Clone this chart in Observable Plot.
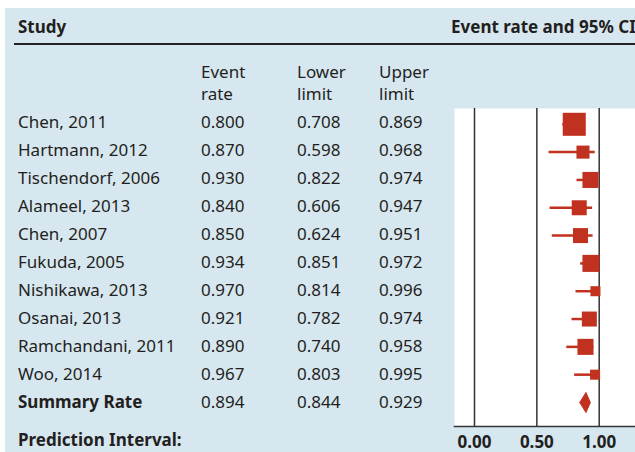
<!DOCTYPE html>
<html>
<head>
<meta charset="utf-8">
<script src="https://cdn.jsdelivr.net/npm/d3@7"></script>
<script src="https://cdn.jsdelivr.net/npm/@observablehq/plot@0.6"></script>
<style>
  html, body { margin: 0; padding: 0; background: #fff; }
  #fig { position: relative; width: 635px; height: 452px; overflow: hidden; background: #fff;
         font-family: "Noto Sans", sans-serif; color: #231f20; }
  #bg { position: absolute; left: 5px; top: 8px; right: 0; bottom: 0; background: #d7e7f0; }
  .t { position: absolute; font-size: 17px; line-height: 22px; white-space: nowrap; }
  .b { font-weight: bold; }
  #hline { position: absolute; left: 14px; right: 0; top: 43px; height: 1.5px; background: #222; }
  #plot { position: absolute; left: 454px; top: 108px; }
</style>
</head>
<body>
<div id="fig">
  <div id="bg"></div>
  <div id="hline"></div>
  <div id="plot"></div>
</div>
<script>
const studies = ["Chen, 2011", "Hartmann, 2012", "Tischendorf, 2006", "Alameel, 2013", "Chen, 2007",
                 "Fukuda, 2005", "Nishikawa, 2013", "Osanai, 2013", "Ramchandani, 2011", "Woo, 2014"];
const eventRate = [0.800, 0.870, 0.930, 0.840, 0.850, 0.934, 0.970, 0.921, 0.890, 0.967];
const lowerLimit = [0.708, 0.598, 0.822, 0.606, 0.624, 0.851, 0.814, 0.782, 0.740, 0.803];
const upperLimit = [0.869, 0.968, 0.974, 0.947, 0.951, 0.972, 0.996, 0.974, 0.958, 0.995];
const relWeight = [24.3, 7.8, 11.8, 10.3, 10.3, 13.3, 4.6, 10.3, 11.8, 4.6];
const summaryLabel = "Summary Rate";
const summaryRate = 0.894, summaryLower = 0.844, summaryUpper = 0.929;
const predictionLabel = "Prediction Interval:";
const xTicks = [0, 0.5, 1];
const headerStudy = "Study";
const headerPlot = "Event rate and 95% CI";
const colHeaders = [["Event", "rate"], ["Lower", "limit"], ["Upper", "limit"]];

const fig = document.getElementById("fig");
const fmt = d3.format(".3f");
function addText(str, left, baseline, bold) {
  const d = document.createElement("div");
  d.className = "t" + (bold ? " b" : "");
  d.textContent = str;
  d.style.left = left + "px";
  d.style.top = (baseline - 17.6) + "px";
  fig.appendChild(d);
}
const colX = [18, 201, 297, 379];
addText(headerStudy, colX[0], 34, true);
addText(headerPlot, 451, 34, true);
colHeaders.forEach((h, j) => { addText(h[0], colX[j + 1], 79); addText(h[1], colX[j + 1], 101); });
const rowBase = (i) => 128.5 + i * 28;
studies.forEach((s, i) => {
  addText(s, colX[0], rowBase(i));
  addText(fmt(eventRate[i]), colX[1], rowBase(i));
  addText(fmt(lowerLimit[i]), colX[2], rowBase(i));
  addText(fmt(upperLimit[i]), colX[3], rowBase(i));
});
addText(summaryLabel, colX[0], rowBase(10), true);
addText(fmt(summaryRate), colX[1], rowBase(10));
addText(fmt(summaryLower), colX[2], rowBase(10));
addText(fmt(summaryUpper), colX[3], rowBase(10));
addText(predictionLabel, colX[0], 447, true);

const rows = studies.map((s, i) => ({i, study: s, rate: eventRate[i], lo: lowerLimit[i], hi: upperLimit[i], w: relWeight[i]}));
const si = studies.length;
const diamond = [
  {x: summaryLower, y: si}, {x: summaryRate, y: si - 0.36}, {x: summaryUpper, y: si},
  {x: summaryRate, y: si + 0.36}, {x: summaryLower, y: si}
];
const red = "#c0311f";

const chart = Plot.plot({
  width: 181, height: 344,
  marginLeft: 0, marginRight: 0, marginTop: 0, marginBottom: 26,
  style: {fontFamily: "Noto Sans", fontSize: "17px", color: "#231f20", background: "transparent", overflow: "visible"},
  x: {domain: [0, 1], range: [20, 144.7]},
  y: {domain: [0, 10], range: [15.8, 294], axis: null},
  r: {type: "sqrt", domain: [0, d3.max(relWeight)], range: [0, 13]},
  marks: [
    Plot.frame({fill: "white", stroke: null}),
    Plot.ruleX(xTicks, {stroke: "#333", strokeWidth: 1.5}),
    Plot.frame({anchor: "bottom", stroke: "#333", strokeWidth: 1.5}),
    Plot.ruleY(rows, {y: "i", x1: "lo", x2: "hi", stroke: red, strokeWidth: 2.5}),
    Plot.dot(rows, {x: "rate", y: "i", r: "w", symbol: "square", fill: red, stroke: null}),
    Plot.line(diamond, {x: "x", y: "y", fill: red, stroke: red, strokeWidth: 1}),
    Plot.axisX({ticks: xTicks, tickFormat: d3.format(".2f"), tickSize: 0, tickPadding: 9,
                fontSize: 17, fontWeight: "bold", fill: "#231f20", label: null})
  ]
});
document.getElementById("plot").appendChild(chart);
</script>
</body>
</html>
